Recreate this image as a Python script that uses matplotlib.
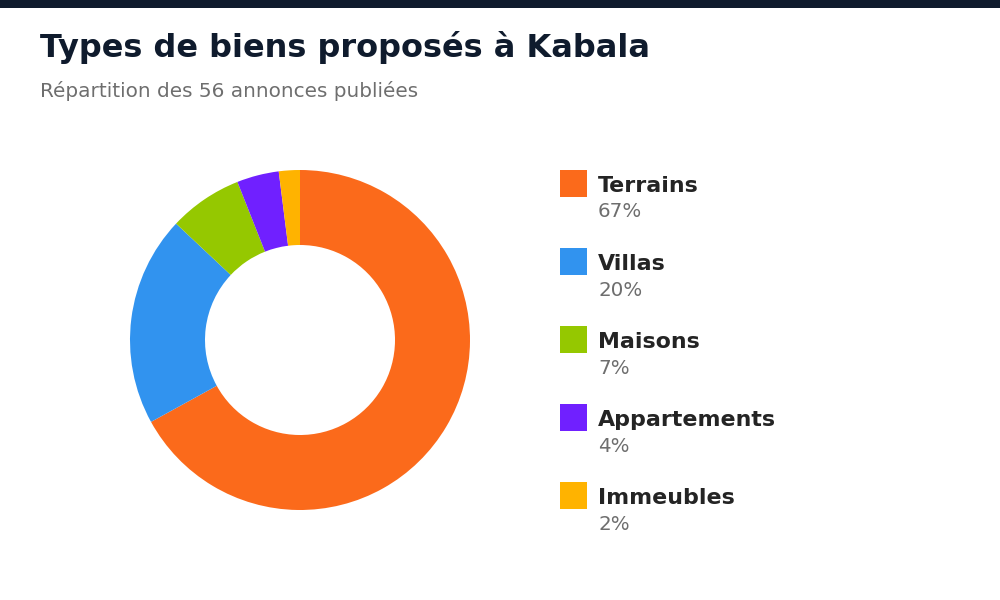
import matplotlib
matplotlib.use("Agg")
import matplotlib.pyplot as plt
from matplotlib.patches import Rectangle

categories = ["Terrains", "Villas", "Maisons", "Appartements", "Immeubles"]
values = [67, 20, 7, 4, 2]
pct_labels = ["67%", "20%", "7%", "4%", "2%"]
colors = ["#FB6A1B", "#3193EF", "#95C800", "#7020FF", "#FFB300"]

title = "Types de biens proposés à Kabala"
subtitle = "Répartition des 56 annonces publiées"

W, H = 1000, 600
fig = plt.figure(figsize=(10, 6), dpi=100)
fig.patch.set_facecolor("white")

# top bar
fig.patches.append(Rectangle((0, 1 - 8 / H), 1, 8 / H, transform=fig.transFigure,
                             facecolor="#0F1B2D", edgecolor="none", zorder=5))

fig.text(40 / W, 1 - 47 / H, title, fontsize=23.0, fontweight="bold",
         color="#0F1B2D", va="center", ha="left", family="DejaVu Sans")
fig.text(40 / W, 1 - 91 / H, subtitle, fontsize=14.4, color="#6E6E6E",
         va="center", ha="left", family="DejaVu Sans")

# donut
cx, cy, r = 300, 340, 170
ax = fig.add_axes([(cx - r) / W, 1 - (cy + r) / H, 2 * r / W, 2 * r / H])
ax.pie(values, colors=colors, startangle=90, counterclock=False, radius=1,
       wedgeprops=dict(width=75 / 170, edgecolor="none", linewidth=0))
ax.set_xlim(-1, 1)
ax.set_ylim(-1, 1)
ax.set_aspect("equal")
ax.axis("off")

# legend
x0, y0, step, sq = 560, 170, 78, 27
for i, (cat, pct, col) in enumerate(zip(categories, pct_labels, colors)):
    top = y0 + i * step
    fig.patches.append(Rectangle((x0 / W, 1 - (top + sq) / H), sq / W, sq / H,
                                 transform=fig.transFigure, facecolor=col,
                                 edgecolor="none"))
    fig.text(598 / W, 1 - (top + 16) / H, cat, fontsize=15.9, fontweight="bold",
             color="#242424", va="center", ha="left")
    fig.text(598 / W, 1 - (top + 42) / H, pct, fontsize=14.3, color="#6E6E6E",
             va="center", ha="left")

fig.savefig("out.png", dpi=100, facecolor="white")
